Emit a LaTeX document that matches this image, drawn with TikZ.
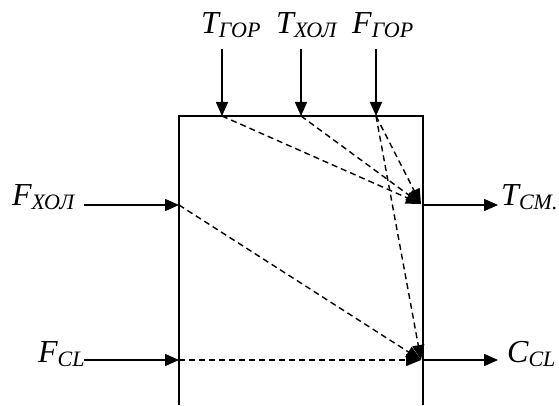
\documentclass[tikz,border=0pt]{standalone}
\usepackage{fontspec}
\setmainfont{Liberation Serif}
\usetikzlibrary{arrows.meta}
\newcommand{\lblsub}[1]{\raisebox{-4pt}{\fontsize{22}{24}\selectfont #1}}
\begin{document}
\begin{tikzpicture}[x=1pt,y=1pt,
  solidarr/.style={line width=1.5pt,-{Triangle[length=14pt,width=12pt]}},
  dasharr/.style={line width=1.4pt,dash pattern=on 6pt off 4pt,-{Triangle[length=15pt,width=12pt]}},
  lbl/.style={inner sep=0pt,font=\fontsize{32}{34}\selectfont\itshape},
  boxline/.style={line width=1.5pt}]
\useasboundingbox (0,0) rectangle (559,405);
% box (open at the bottom)
\coordinate (bl) at (179,0);
\coordinate (tl) at (179,289);
\coordinate (tr) at (423,289);
\coordinate (br) at (423,0);
\draw[boxline] (bl) -- (tl) -- (tr) -- (br);
% input points
\coordinate (in1) at (222,289);
\coordinate (in2) at (301,289);
\coordinate (in3) at (376,289);
\coordinate (in4) at (179,200);
\coordinate (in5) at (179,45);
% output points
\coordinate (out1) at (423,200);
\coordinate (out2) at (423,45);
\coordinate (tgt1) at (421,201);
\coordinate (tgt2) at (421,45);
% arrow ends outside the box
\coordinate (s1) at (222,356);
\coordinate (s2) at (301,356);
\coordinate (s3) at (376,356);
\coordinate (s4) at (84,200);
\coordinate (s5) at (84,45);
\coordinate (e1) at (498,200);
\coordinate (e2) at (498,45);
% labels
\node[lbl,anchor=base west] (Tgor) at (201,371) {T\lblsub{ГОР}};
\node[lbl,anchor=base west] (Thol) at (276,371) {T\lblsub{ХОЛ}};
\node[lbl,anchor=base west] (Fgor) at (352,371) {F\lblsub{ГОР}};
\node[lbl,anchor=base west] (Fhol) at (12,200) {F\lblsub{ХОЛ}};
\node[lbl,anchor=base west] (Fcl) at (38,43) {F\lblsub{CL}};
\node[lbl,anchor=base west] (Tcm) at (501,200) {T\lblsub{CM.}};
\node[lbl,anchor=base west] (Ccl) at (507,43) {C\lblsub{CL}};
% solid arrows
\draw[solidarr] (s1) -- (in1);
\draw[solidarr] (s2) -- (in2);
\draw[solidarr] (s3) -- (in3);
\draw[solidarr] (s4) -- (in4);
\draw[solidarr] (s5) -- (in5);
\draw[solidarr] (out1) -- (e1);
\draw[solidarr] (out2) -- (e2);
% dashed influence arrows
\draw[dasharr] (in1) -- (tgt1);
\draw[dasharr] (in2) -- (tgt1);
\draw[dasharr] (in3) -- (tgt1);
\draw[dasharr] (in3) -- (tgt2);
\draw[dasharr] (in4) -- (tgt2);
\draw[dasharr] (in5) -- (tgt2);
\end{tikzpicture}
\end{document}
